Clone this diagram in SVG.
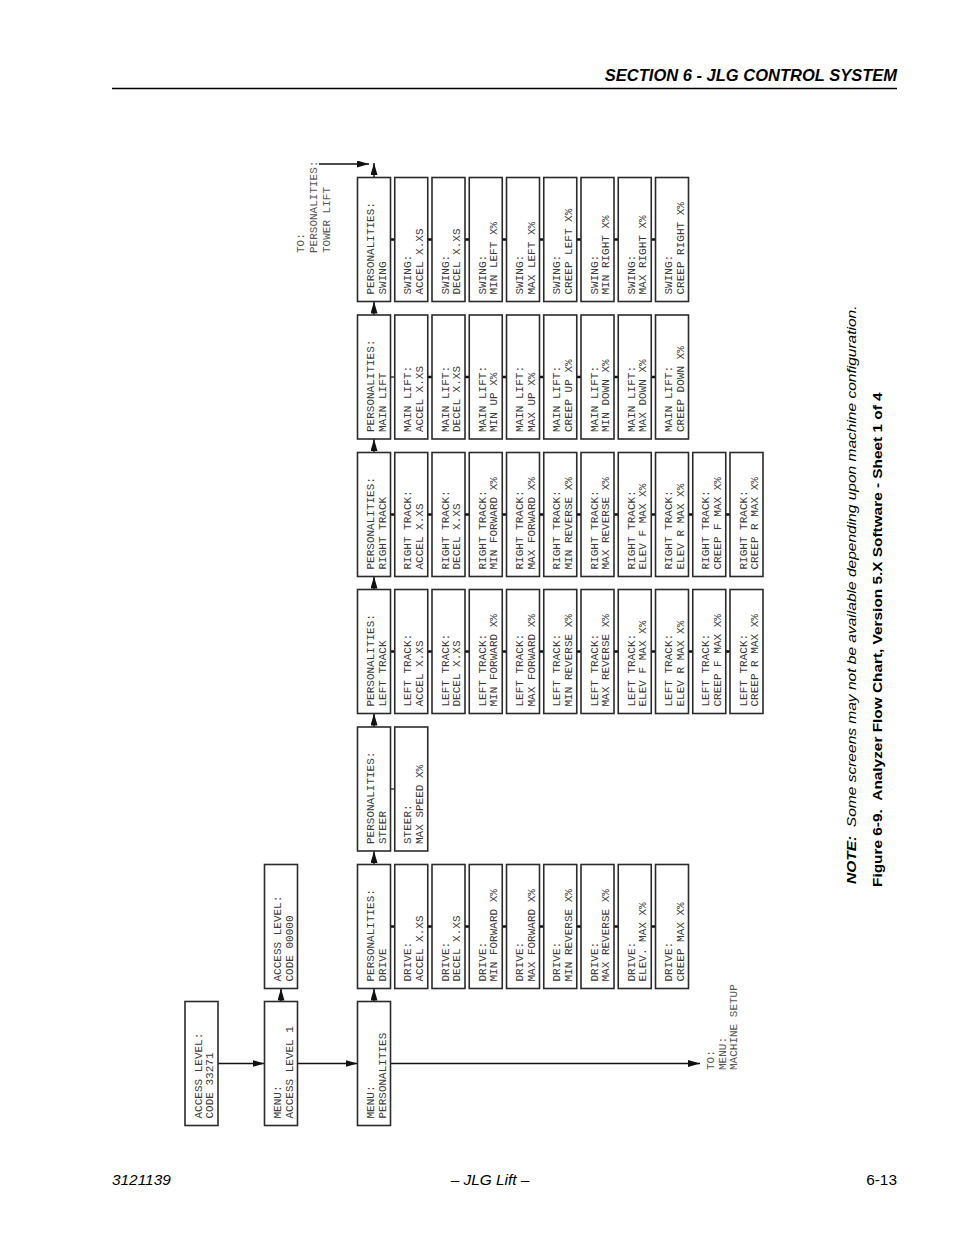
<svg xmlns="http://www.w3.org/2000/svg" width="954" height="1235" viewBox="0 0 954 1235">
<defs>
<style>
.box{fill:#fff;stroke:#2b2b2b;stroke-width:1.6}
.t{font-family:"Liberation Mono","Courier New",monospace;font-size:11px;fill:#3a3a3a}
.to{font-family:"Liberation Mono","Courier New",monospace;font-size:11px;fill:#555}
.ln{fill:none;stroke:#111;stroke-width:1.4}
.sib{fill:none;stroke:#111;stroke-width:2.6}
.sibt{fill:none;stroke:#111;stroke-width:1.2}
.hdr{font-family:"Liberation Sans",Arial,sans-serif;font-weight:bold;font-style:italic;font-size:16.5px;fill:#000}
.ftr{font-family:"Liberation Sans",Arial,sans-serif;font-size:15.4px;fill:#000}
.note{font-family:"Liberation Sans",Arial,sans-serif;font-size:12.6px;fill:#000}
</style>
<marker id="ah" viewBox="0 0 12 7" refX="12" refY="3.5" markerWidth="12" markerHeight="7" markerUnits="userSpaceOnUse" orient="auto">
<path d="M0,0 L12,3.5 L0,7 z" fill="#111"/>
</marker>
</defs>
<rect width="954" height="1235" fill="#fff"/>

<g id="page-header">
<text class="hdr" x="897" y="81" text-anchor="end">SECTION 6 - JLG CONTROL SYSTEM</text>
<line x1="112" y1="88.5" x2="897" y2="88.5" stroke="#000" stroke-width="1.5"/>
</g>
<g id="page-footer">
<text class="ftr" x="112" y="1185" font-style="italic">3121139</text>
<text class="ftr" x="490" y="1185" font-style="italic" text-anchor="middle">– JLG Lift –</text>
<text class="ftr" x="897" y="1185" text-anchor="end">6-13</text>
</g>
<g id="caption">
<text class="note" transform="translate(856,884) rotate(-90) scale(1.232,1)"><tspan font-weight="bold" font-style="italic">NOTE:</tspan><tspan font-style="italic" dx="7">Some screens may not be available depending upon machine configuration.</tspan></text>
<text class="note" font-weight="bold" transform="translate(881.5,887) rotate(-90) scale(1.222,1)">Figure 6-9.<tspan dx="7">Analyzer Flow Chart, Version 5.X Software - Sheet 1 of 4</tspan></text>
</g>

<g id="connectors">
<line class="ln" x1="218" y1="1063.5" x2="264.5" y2="1063.5" marker-end="url(#ah)"/>
<line class="ln" x1="297.5" y1="1063.5" x2="357.5" y2="1063.5" marker-end="url(#ah)"/>
<line class="ln" x1="390.5" y1="1063.5" x2="700" y2="1063.5" marker-end="url(#ah)"/>
<line class="ln" x1="319" y1="164" x2="369" y2="164" marker-end="url(#ah)"/>
<line class="ln" x1="281" y1="1001.5" x2="281" y2="988.5" marker-end="url(#ah)"/>
<line class="ln" x1="374" y1="1001.5" x2="374" y2="988.5" marker-end="url(#ah)"/>
<line class="ln" x1="374" y1="864.5" x2="374" y2="851" marker-end="url(#ah)"/>
<line class="ln" x1="374" y1="727" x2="374" y2="713.5" marker-end="url(#ah)"/>
<line class="ln" x1="374" y1="589.5" x2="374" y2="576.5" marker-end="url(#ah)"/>
<line class="ln" x1="374" y1="452.5" x2="374" y2="439" marker-end="url(#ah)"/>
<line class="ln" x1="374" y1="315" x2="374" y2="301.5" marker-end="url(#ah)"/>
<line class="ln" x1="374" y1="177.5" x2="374" y2="163" marker-end="url(#ah)"/>
<path class="sib" d="M390.5,926.5H394.75M427.75,926.5H432M465,926.5H469.25M502.25,926.5H506.5M539.5,926.5H543.75M576.75,926.5H581M614,926.5H618.25M651.25,926.5H655.5"/>
<path class="sibt" d="M390.5,789H394.75"/>
<path class="sib" d="M390.5,651.5H394.75M427.75,651.5H432M465,651.5H469.25M502.25,651.5H506.5M539.5,651.5H543.75M576.75,651.5H581M614,651.5H618.25M651.25,651.5H655.5M688.5,651.5H692.75M725.75,651.5H730"/>
<path class="sib" d="M390.5,514.5H394.75M427.75,514.5H432M465,514.5H469.25M502.25,514.5H506.5M539.5,514.5H543.75M576.75,514.5H581M614,514.5H618.25M651.25,514.5H655.5M688.5,514.5H692.75M725.75,514.5H730"/>
<path class="sibt" d="M390.5,377H394.75"/>
<path class="sib" d="M427.75,377H432M465,377H469.25M502.25,377H506.5M539.5,377H543.75M576.75,377H581M614,377H618.25M651.25,377H655.5"/>
<path class="sib" d="M390.5,239.5H394.75M427.75,239.5H432M465,239.5H469.25M502.25,239.5H506.5M539.5,239.5H543.75M576.75,239.5H581M614,239.5H618.25M651.25,239.5H655.5"/>
</g>

<g id="to-labels">
<text class="to" transform="translate(303.5,253) rotate(-90)"><tspan x="0" y="0">TO:</tspan><tspan x="0" y="13">PERSONALITIES:</tspan><tspan x="0" y="26.5">TOWER LIFT</tspan></text>
<text class="to" transform="translate(714,1070) rotate(-90)"><tspan x="0" y="0">TO:</tspan><tspan x="0" y="11.5">MENU:</tspan><tspan x="0" y="23">MACHINE SETUP</tspan></text>
</g>

<g id="access-level-33271"><rect class="box" x="185" y="1001.5" width="33" height="124"/><text class="t" transform="translate(201.5,1118.5) rotate(-90)"><tspan x="0" y="0">ACCESS LEVEL:</tspan><tspan x="0" y="11.5">CODE 33271</tspan></text></g>
<g id="menu-access-level-1"><rect class="box" x="264.5" y="1001.5" width="33" height="124"/><text class="t" transform="translate(281,1118.5) rotate(-90)"><tspan x="0" y="0">MENU:</tspan><tspan x="0" y="11.5">ACCESS LEVEL 1</tspan></text></g>
<g id="access-level-00000"><rect class="box" x="264.5" y="864.5" width="33" height="124"/><text class="t" transform="translate(281,981.5) rotate(-90)"><tspan x="0" y="0">ACCESS LEVEL:</tspan><tspan x="0" y="11.5">CODE 00000</tspan></text></g>
<g id="menu-personalities"><rect class="box" x="357.5" y="1001.5" width="33" height="124"/><text class="t" transform="translate(374,1118.5) rotate(-90)"><tspan x="0" y="0">MENU:</tspan><tspan x="0" y="11.5">PERSONALITIES</tspan></text></g>

<g id="pers-drive"><rect class="box" x="357.5" y="864.5" width="33" height="124"/><text class="t" transform="translate(374,981.5) rotate(-90)"><tspan x="0" y="0">PERSONALITIES:</tspan><tspan x="0" y="11.5">DRIVE</tspan></text></g>
<g id="drive-accel"><rect class="box" x="394.75" y="864.5" width="33" height="124"/><text class="t" transform="translate(411.25,981.5) rotate(-90)"><tspan x="0" y="0">DRIVE:</tspan><tspan x="0" y="11.5">ACCEL X.XS</tspan></text></g>
<g id="drive-decel"><rect class="box" x="432" y="864.5" width="33" height="124"/><text class="t" transform="translate(448.5,981.5) rotate(-90)"><tspan x="0" y="0">DRIVE:</tspan><tspan x="0" y="11.5">DECEL X.XS</tspan></text></g>
<g id="drive-min-forward"><rect class="box" x="469.25" y="864.5" width="33" height="124"/><text class="t" transform="translate(485.75,981.5) rotate(-90)"><tspan x="0" y="0">DRIVE:</tspan><tspan x="0" y="11.5">MIN FORWARD X%</tspan></text></g>
<g id="drive-max-forward"><rect class="box" x="506.5" y="864.5" width="33" height="124"/><text class="t" transform="translate(523,981.5) rotate(-90)"><tspan x="0" y="0">DRIVE:</tspan><tspan x="0" y="11.5">MAX FORWARD X%</tspan></text></g>
<g id="drive-min-reverse"><rect class="box" x="543.75" y="864.5" width="33" height="124"/><text class="t" transform="translate(560.25,981.5) rotate(-90)"><tspan x="0" y="0">DRIVE:</tspan><tspan x="0" y="11.5">MIN REVERSE X%</tspan></text></g>
<g id="drive-max-reverse"><rect class="box" x="581" y="864.5" width="33" height="124"/><text class="t" transform="translate(597.5,981.5) rotate(-90)"><tspan x="0" y="0">DRIVE:</tspan><tspan x="0" y="11.5">MAX REVERSE X%</tspan></text></g>
<g id="drive-elev-max"><rect class="box" x="618.25" y="864.5" width="33" height="124"/><text class="t" transform="translate(634.75,981.5) rotate(-90)"><tspan x="0" y="0">DRIVE:</tspan><tspan x="0" y="11.5">ELEV. MAX X%</tspan></text></g>
<g id="drive-creep-max"><rect class="box" x="655.5" y="864.5" width="33" height="124"/><text class="t" transform="translate(672,981.5) rotate(-90)"><tspan x="0" y="0">DRIVE:</tspan><tspan x="0" y="11.5">CREEP MAX X%</tspan></text></g>

<g id="pers-steer"><rect class="box" x="357.5" y="727" width="33" height="124"/><text class="t" transform="translate(374,844) rotate(-90)"><tspan x="0" y="0">PERSONALITIES:</tspan><tspan x="0" y="11.5">STEER</tspan></text></g>
<g id="steer-max-speed"><rect class="box" x="394.75" y="727" width="33" height="124"/><text class="t" transform="translate(411.25,844) rotate(-90)"><tspan x="0" y="0">STEER:</tspan><tspan x="0" y="11.5">MAX SPEED X%</tspan></text></g>

<g id="pers-left-track"><rect class="box" x="357.5" y="589.5" width="33" height="124"/><text class="t" transform="translate(374,706.5) rotate(-90)"><tspan x="0" y="0">PERSONALITIES:</tspan><tspan x="0" y="11.5">LEFT TRACK</tspan></text></g>
<g id="lt-accel"><rect class="box" x="394.75" y="589.5" width="33" height="124"/><text class="t" transform="translate(411.25,706.5) rotate(-90)"><tspan x="0" y="0">LEFT TRACK:</tspan><tspan x="0" y="11.5">ACCEL X.XS</tspan></text></g>
<g id="lt-decel"><rect class="box" x="432" y="589.5" width="33" height="124"/><text class="t" transform="translate(448.5,706.5) rotate(-90)"><tspan x="0" y="0">LEFT TRACK:</tspan><tspan x="0" y="11.5">DECEL X.XS</tspan></text></g>
<g id="lt-min-forward"><rect class="box" x="469.25" y="589.5" width="33" height="124"/><text class="t" transform="translate(485.75,706.5) rotate(-90)"><tspan x="0" y="0">LEFT TRACK:</tspan><tspan x="0" y="11.5">MIN FORWARD X%</tspan></text></g>
<g id="lt-max-forward"><rect class="box" x="506.5" y="589.5" width="33" height="124"/><text class="t" transform="translate(523,706.5) rotate(-90)"><tspan x="0" y="0">LEFT TRACK:</tspan><tspan x="0" y="11.5">MAX FORWARD X%</tspan></text></g>
<g id="lt-min-reverse"><rect class="box" x="543.75" y="589.5" width="33" height="124"/><text class="t" transform="translate(560.25,706.5) rotate(-90)"><tspan x="0" y="0">LEFT TRACK:</tspan><tspan x="0" y="11.5">MIN REVERSE X%</tspan></text></g>
<g id="lt-max-reverse"><rect class="box" x="581" y="589.5" width="33" height="124"/><text class="t" transform="translate(597.5,706.5) rotate(-90)"><tspan x="0" y="0">LEFT TRACK:</tspan><tspan x="0" y="11.5">MAX REVERSE X%</tspan></text></g>
<g id="lt-elev-f-max"><rect class="box" x="618.25" y="589.5" width="33" height="124"/><text class="t" transform="translate(634.75,706.5) rotate(-90)"><tspan x="0" y="0">LEFT TRACK:</tspan><tspan x="0" y="11.5">ELEV F MAX X%</tspan></text></g>
<g id="lt-elev-r-max"><rect class="box" x="655.5" y="589.5" width="33" height="124"/><text class="t" transform="translate(672,706.5) rotate(-90)"><tspan x="0" y="0">LEFT TRACK:</tspan><tspan x="0" y="11.5">ELEV R MAX X%</tspan></text></g>
<g id="lt-creep-f-max"><rect class="box" x="692.75" y="589.5" width="33" height="124"/><text class="t" transform="translate(709.25,706.5) rotate(-90)"><tspan x="0" y="0">LEFT TRACK:</tspan><tspan x="0" y="11.5">CREEP F MAX X%</tspan></text></g>
<g id="lt-creep-r-max"><rect class="box" x="730" y="589.5" width="33" height="124"/><text class="t" transform="translate(746.5,706.5) rotate(-90)"><tspan x="0" y="0">LEFT TRACK:</tspan><tspan x="0" y="11.5">CREEP R MAX X%</tspan></text></g>

<g id="pers-right-track"><rect class="box" x="357.5" y="452.5" width="33" height="124"/><text class="t" transform="translate(374,569.5) rotate(-90)"><tspan x="0" y="0">PERSONALITIES:</tspan><tspan x="0" y="11.5">RIGHT TRACK</tspan></text></g>
<g id="rt-accel"><rect class="box" x="394.75" y="452.5" width="33" height="124"/><text class="t" transform="translate(411.25,569.5) rotate(-90)"><tspan x="0" y="0">RIGHT TRACK:</tspan><tspan x="0" y="11.5">ACCEL X.XS</tspan></text></g>
<g id="rt-decel"><rect class="box" x="432" y="452.5" width="33" height="124"/><text class="t" transform="translate(448.5,569.5) rotate(-90)"><tspan x="0" y="0">RIGHT TRACK:</tspan><tspan x="0" y="11.5">DECEL X.XS</tspan></text></g>
<g id="rt-min-forward"><rect class="box" x="469.25" y="452.5" width="33" height="124"/><text class="t" transform="translate(485.75,569.5) rotate(-90)"><tspan x="0" y="0">RIGHT TRACK:</tspan><tspan x="0" y="11.5">MIN FORWARD X%</tspan></text></g>
<g id="rt-max-forward"><rect class="box" x="506.5" y="452.5" width="33" height="124"/><text class="t" transform="translate(523,569.5) rotate(-90)"><tspan x="0" y="0">RIGHT TRACK:</tspan><tspan x="0" y="11.5">MAX FORWARD X%</tspan></text></g>
<g id="rt-min-reverse"><rect class="box" x="543.75" y="452.5" width="33" height="124"/><text class="t" transform="translate(560.25,569.5) rotate(-90)"><tspan x="0" y="0">RIGHT TRACK:</tspan><tspan x="0" y="11.5">MIN REVERSE X%</tspan></text></g>
<g id="rt-max-reverse"><rect class="box" x="581" y="452.5" width="33" height="124"/><text class="t" transform="translate(597.5,569.5) rotate(-90)"><tspan x="0" y="0">RIGHT TRACK:</tspan><tspan x="0" y="11.5">MAX REVERSE X%</tspan></text></g>
<g id="rt-elev-f-max"><rect class="box" x="618.25" y="452.5" width="33" height="124"/><text class="t" transform="translate(634.75,569.5) rotate(-90)"><tspan x="0" y="0">RIGHT TRACK:</tspan><tspan x="0" y="11.5">ELEV F MAX X%</tspan></text></g>
<g id="rt-elev-r-max"><rect class="box" x="655.5" y="452.5" width="33" height="124"/><text class="t" transform="translate(672,569.5) rotate(-90)"><tspan x="0" y="0">RIGHT TRACK:</tspan><tspan x="0" y="11.5">ELEV R MAX X%</tspan></text></g>
<g id="rt-creep-f-max"><rect class="box" x="692.75" y="452.5" width="33" height="124"/><text class="t" transform="translate(709.25,569.5) rotate(-90)"><tspan x="0" y="0">RIGHT TRACK:</tspan><tspan x="0" y="11.5">CREEP F MAX X%</tspan></text></g>
<g id="rt-creep-r-max"><rect class="box" x="730" y="452.5" width="33" height="124"/><text class="t" transform="translate(746.5,569.5) rotate(-90)"><tspan x="0" y="0">RIGHT TRACK:</tspan><tspan x="0" y="11.5">CREEP R MAX X%</tspan></text></g>

<g id="pers-main-lift"><rect class="box" x="357.5" y="315" width="33" height="124"/><text class="t" transform="translate(374,432) rotate(-90)"><tspan x="0" y="0">PERSONALITIES:</tspan><tspan x="0" y="11.5">MAIN LIFT</tspan></text></g>
<g id="ml-accel"><rect class="box" x="394.75" y="315" width="33" height="124"/><text class="t" transform="translate(411.25,432) rotate(-90)"><tspan x="0" y="0">MAIN LIFT:</tspan><tspan x="0" y="11.5">ACCEL X.XS</tspan></text></g>
<g id="ml-decel"><rect class="box" x="432" y="315" width="33" height="124"/><text class="t" transform="translate(448.5,432) rotate(-90)"><tspan x="0" y="0">MAIN LIFT:</tspan><tspan x="0" y="11.5">DECEL X.XS</tspan></text></g>
<g id="ml-min-up"><rect class="box" x="469.25" y="315" width="33" height="124"/><text class="t" transform="translate(485.75,432) rotate(-90)"><tspan x="0" y="0">MAIN LIFT:</tspan><tspan x="0" y="11.5">MIN UP X%</tspan></text></g>
<g id="ml-max-up"><rect class="box" x="506.5" y="315" width="33" height="124"/><text class="t" transform="translate(523,432) rotate(-90)"><tspan x="0" y="0">MAIN LIFT:</tspan><tspan x="0" y="11.5">MAX UP X%</tspan></text></g>
<g id="ml-creep-up"><rect class="box" x="543.75" y="315" width="33" height="124"/><text class="t" transform="translate(560.25,432) rotate(-90)"><tspan x="0" y="0">MAIN LIFT:</tspan><tspan x="0" y="11.5">CREEP UP X%</tspan></text></g>
<g id="ml-min-down"><rect class="box" x="581" y="315" width="33" height="124"/><text class="t" transform="translate(597.5,432) rotate(-90)"><tspan x="0" y="0">MAIN LIFT:</tspan><tspan x="0" y="11.5">MIN DOWN X%</tspan></text></g>
<g id="ml-max-down"><rect class="box" x="618.25" y="315" width="33" height="124"/><text class="t" transform="translate(634.75,432) rotate(-90)"><tspan x="0" y="0">MAIN LIFT:</tspan><tspan x="0" y="11.5">MAX DOWN X%</tspan></text></g>
<g id="ml-creep-down"><rect class="box" x="655.5" y="315" width="33" height="124"/><text class="t" transform="translate(672,432) rotate(-90)"><tspan x="0" y="0">MAIN LIFT:</tspan><tspan x="0" y="11.5">CREEP DOWN X%</tspan></text></g>

<g id="pers-swing"><rect class="box" x="357.5" y="177.5" width="33" height="124"/><text class="t" transform="translate(374,294.5) rotate(-90)"><tspan x="0" y="0">PERSONALITIES:</tspan><tspan x="0" y="11.5">SWING</tspan></text></g>
<g id="sw-accel"><rect class="box" x="394.75" y="177.5" width="33" height="124"/><text class="t" transform="translate(411.25,294.5) rotate(-90)"><tspan x="0" y="0">SWING:</tspan><tspan x="0" y="11.5">ACCEL X.XS</tspan></text></g>
<g id="sw-decel"><rect class="box" x="432" y="177.5" width="33" height="124"/><text class="t" transform="translate(448.5,294.5) rotate(-90)"><tspan x="0" y="0">SWING:</tspan><tspan x="0" y="11.5">DECEL X.XS</tspan></text></g>
<g id="sw-min-left"><rect class="box" x="469.25" y="177.5" width="33" height="124"/><text class="t" transform="translate(485.75,294.5) rotate(-90)"><tspan x="0" y="0">SWING:</tspan><tspan x="0" y="11.5">MIN LEFT X%</tspan></text></g>
<g id="sw-max-left"><rect class="box" x="506.5" y="177.5" width="33" height="124"/><text class="t" transform="translate(523,294.5) rotate(-90)"><tspan x="0" y="0">SWING:</tspan><tspan x="0" y="11.5">MAX LEFT X%</tspan></text></g>
<g id="sw-creep-left"><rect class="box" x="543.75" y="177.5" width="33" height="124"/><text class="t" transform="translate(560.25,294.5) rotate(-90)"><tspan x="0" y="0">SWING:</tspan><tspan x="0" y="11.5">CREEP LEFT X%</tspan></text></g>
<g id="sw-min-right"><rect class="box" x="581" y="177.5" width="33" height="124"/><text class="t" transform="translate(597.5,294.5) rotate(-90)"><tspan x="0" y="0">SWING:</tspan><tspan x="0" y="11.5">MIN RIGHT X%</tspan></text></g>
<g id="sw-max-right"><rect class="box" x="618.25" y="177.5" width="33" height="124"/><text class="t" transform="translate(634.75,294.5) rotate(-90)"><tspan x="0" y="0">SWING:</tspan><tspan x="0" y="11.5">MAX RIGHT X%</tspan></text></g>
<g id="sw-creep-right"><rect class="box" x="655.5" y="177.5" width="33" height="124"/><text class="t" transform="translate(672,294.5) rotate(-90)"><tspan x="0" y="0">SWING:</tspan><tspan x="0" y="11.5">CREEP RIGHT X%</tspan></text></g>
</svg>
